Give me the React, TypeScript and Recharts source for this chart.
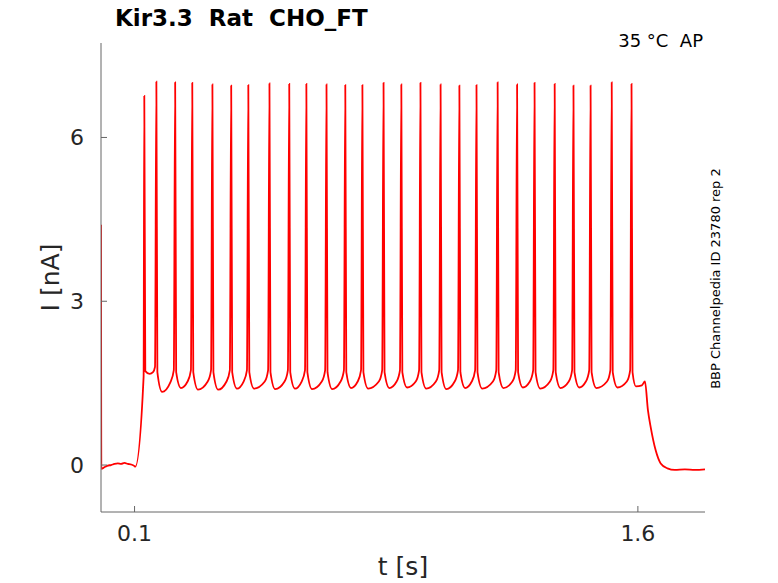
import { LineChart, Line, XAxis, YAxis } from 'recharts';

// current trace, [time (s), current (nA)]
const holding: [number, number][] = [
  [0, 4.4], [0.001, -0.07], [0.01, -0.04], [0.02, -0.01], [0.03, 0.0],
  [0.04, 0.02], [0.05, 0.03], [0.06, 0.02], [0.07, 0.04], [0.08, 0.02],
  [0.09, 0.01], [0.1, -0.02], [0.102, -0.03], [0.127, 1.62],
];

const spikeTrain: [number, number][] = [
  [0.129, 6.76], [0.132, 1.72], [0.145, 1.67], [0.155, 1.7], [0.161, 1.8],
  [0.165, 7.02], [0.168, 1.7], [0.182, 1.34], [0.207, 1.52], [0.217, 1.74],
  [0.221, 7.01], [0.224, 1.7], [0.238, 1.41], [0.258, 1.53], [0.268, 1.74],
  [0.272, 7.0], [0.275, 1.7], [0.289, 1.38], [0.318, 1.53], [0.328, 1.74],
  [0.332, 6.97], [0.335, 1.7], [0.349, 1.38], [0.374, 1.53], [0.384, 1.74],
  [0.388, 6.95], [0.391, 1.7], [0.405, 1.4], [0.425, 1.53], [0.435, 1.74],
  [0.439, 6.96], [0.442, 1.7], [0.456, 1.4], [0.488, 1.53], [0.498, 1.74],
  [0.502, 6.99], [0.505, 1.7], [0.519, 1.39], [0.547, 1.53], [0.557, 1.74],
  [0.561, 6.98], [0.564, 1.7], [0.578, 1.4], [0.598, 1.53], [0.608, 1.74],
  [0.612, 6.98], [0.615, 1.7], [0.629, 1.39], [0.658, 1.53], [0.668, 1.74],
  [0.672, 6.97], [0.675, 1.7], [0.689, 1.39], [0.714, 1.53], [0.724, 1.74],
  [0.728, 6.96], [0.731, 1.7], [0.745, 1.41], [0.765, 1.53], [0.775, 1.74],
  [0.779, 6.96], [0.782, 1.7], [0.796, 1.4], [0.828, 1.53], [0.838, 1.74],
  [0.842, 7.0], [0.845, 1.7], [0.859, 1.41], [0.881, 1.53], [0.891, 1.74],
  [0.895, 6.97], [0.898, 1.7], [0.912, 1.42], [0.938, 1.53], [0.948, 1.74],
  [0.952, 7.0], [0.955, 1.7], [0.969, 1.4], [0.998, 1.53], [1.008, 1.74],
  [1.012, 6.97], [1.015, 1.7], [1.029, 1.39], [1.054, 1.53], [1.064, 1.74],
  [1.068, 6.95], [1.071, 1.7], [1.085, 1.41], [1.105, 1.53], [1.115, 1.74],
  [1.119, 6.96], [1.122, 1.7], [1.136, 1.4], [1.168, 1.53], [1.178, 1.74],
  [1.182, 7.01], [1.185, 1.7], [1.199, 1.41], [1.226, 1.53], [1.236, 1.74],
  [1.24, 6.97], [1.243, 1.7], [1.257, 1.42], [1.278, 1.53], [1.288, 1.74],
  [1.292, 7.0], [1.295, 1.7], [1.309, 1.4], [1.338, 1.53], [1.348, 1.74],
  [1.352, 6.98], [1.355, 1.7], [1.369, 1.41], [1.394, 1.53], [1.404, 1.74],
  [1.408, 6.95], [1.411, 1.7], [1.425, 1.42], [1.445, 1.53], [1.455, 1.74],
  [1.459, 6.95], [1.462, 1.7], [1.476, 1.41], [1.508, 1.53], [1.518, 1.74],
  [1.522, 7.01], [1.525, 1.7], [1.539, 1.42], [1.567, 1.53], [1.577, 1.74],
  [1.581, 6.98],
];

const recovery: [number, number][] = [
  [1.584, 1.7], [1.594, 1.44], [1.612, 1.46], [1.621, 1.53], [1.63, 1.0],
  [1.638, 0.7], [1.653, 0.27], [1.668, 0.03], [1.688, -0.06], [1.71, -0.09],
  [1.74, -0.08], [1.77, -0.09], [1.8, -0.08],
];

const xTicks = [0.1, 1.6];
const yTicks = [0, 3, 6];

const data = [...holding, ...spikeTrain, ...recovery].map(([t, i]) => ({ t, i }));

const font = 'DejaVu Sans, sans-serif';
const axisGray = '#666666';
const textGray = '#262626';

export default function App() {
  return (
    <div style={{ position: 'absolute', left: 0, top: 0, width: 778, height: 583, background: '#fff' }}>
      <LineChart width={778} height={583} data={data} margin={{ top: 43, right: 73, bottom: 31, left: 41 }}>
        <XAxis
          dataKey="t"
          type="number"
          domain={[0, 1.8]}
          ticks={xTicks}
          tickFormatter={(v: number) => v.toFixed(1)}
          height={40}
          allowDataOverflow
          stroke={axisGray}
          tickSize={-6}
          tickMargin={19}
          tick={{ fill: textGray, fontSize: 22, fontFamily: font }}
        />
        <YAxis
          type="number"
          domain={[-0.86, 7.73]}
          ticks={yTicks}
          width={60}
          allowDataOverflow
          stroke={axisGray}
          tickSize={-6}
          tickMargin={23}
          tick={{ fill: textGray, fontSize: 22, fontFamily: font }}
        />
        <Line
          type="monotone"
          dataKey="i"
          stroke="#ff0000"
          strokeWidth={1.8}
          dot={false}
          isAnimationActive={false}
        />
      </LineChart>
      <svg width={778} height={583} style={{ position: 'absolute', left: 0, top: 0, pointerEvents: 'none' }}>
        <text x={115} y={26} fontFamily={font} fontSize={23} fontWeight="bold" fill="#000" style={{ whiteSpace: 'pre' }}>
          Kir3.3  Rat  CHO_FT
        </text>
        <text x={703} y={47} textAnchor="end" fontFamily={font} fontSize={18} fill="#000" style={{ whiteSpace: 'pre' }}>
          35 °C  AP
        </text>
        <text x={403} y={575} textAnchor="middle" fontFamily={font} fontSize={25} fill={textGray}>
          t [s]
        </text>
        <text x={59} y={277.5} transform="rotate(-90 59 277.5)" textAnchor="middle" fontFamily={font} fontSize={25} fill={textGray}>
          I [nA]
        </text>
        <text x={719.5} y={278.5} transform="rotate(-90 719.5 278.5)" textAnchor="middle" fontFamily={font} fontSize={13} fill="#000">
          BBP Channelpedia ID 23780 rep 2
        </text>
      </svg>
    </div>
  );
}
